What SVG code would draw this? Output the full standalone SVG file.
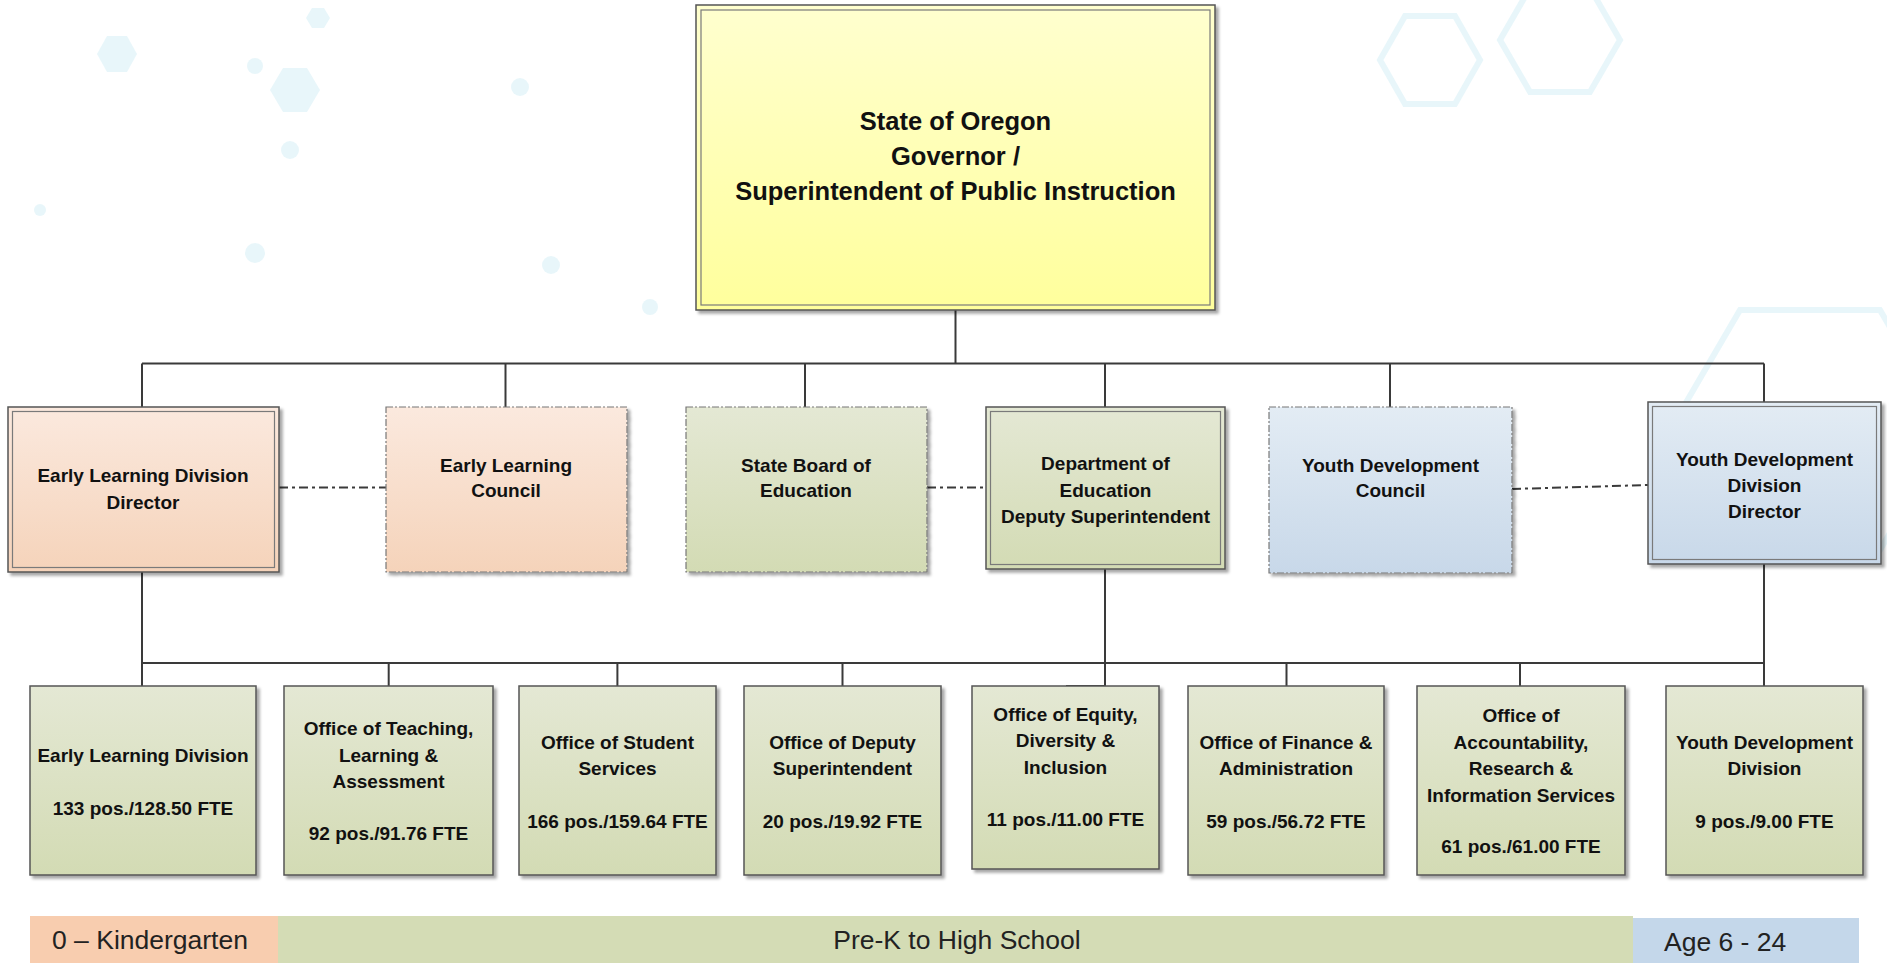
<svg xmlns="http://www.w3.org/2000/svg" width="1887" height="963" viewBox="0 0 1887 963">
<defs>
<linearGradient id="gY" x1="0" y1="0" x2="0" y2="1"><stop offset="0" stop-color="#FFFFCF"/><stop offset="1" stop-color="#FFFF9C"/></linearGradient>
<linearGradient id="gP" x1="0" y1="0" x2="0" y2="1"><stop offset="0" stop-color="#FBE9DE"/><stop offset="1" stop-color="#F5D3BA"/></linearGradient>
<linearGradient id="gG" x1="0" y1="0" x2="0" y2="1"><stop offset="0" stop-color="#E4E8D4"/><stop offset="1" stop-color="#D3DBB4"/></linearGradient>
<linearGradient id="gB" x1="0" y1="0" x2="0" y2="1"><stop offset="0" stop-color="#E3ECF4"/><stop offset="1" stop-color="#C8D8E9"/></linearGradient>
<filter id="sh" x="-5%" y="-5%" width="115%" height="115%"><feDropShadow dx="3" dy="3" stdDeviation="1.5" flood-color="#000" flood-opacity="0.35"/></filter>
<style>
.o{stroke:#555;stroke-width:1.5}
.i{fill:none;stroke:#7a7a7a;stroke-width:1.2}
.d{stroke:#777;stroke-width:1.2;stroke-dasharray:7 2 2 2}
.s{stroke:#555;stroke-width:1.5}
.c{fill:none;stroke:#3a3a3a;stroke-width:2}
.dc{fill:none;stroke:#3a3a3a;stroke-width:2;stroke-dasharray:9 4 3 4}
.t{font-family:"Liberation Sans",Arial,sans-serif;font-weight:bold;font-size:19px;fill:#111;text-anchor:middle}
.tt{font-family:"Liberation Sans",Arial,sans-serif;font-weight:bold;font-size:25.5px;fill:#111;text-anchor:middle}
.b{font-family:"Liberation Sans",Arial,sans-serif;font-size:26.5px;fill:#222}
.bg{fill:#D6EEF5;opacity:0.55}
.bgl{fill:none;stroke:#D6EEF5;stroke-width:6;opacity:0.55}
</style>
</defs>
<rect width="1887" height="963" fill="#ffffff"/>
<g id="background">
<polygon class="bg" points="137,54 127,72 107,72 97,54 107,36 127,36"/>
<polygon class="bg" points="320,90 307,112 283,112 270,90 283,68 307,68"/>
<polygon class="bg" points="330,18 324,28 312,28 306,18 312,8 324,8"/>
<circle class="bg" cx="255" cy="66" r="8"/>
<circle class="bg" cx="290" cy="150" r="9"/>
<circle class="bg" cx="255" cy="253" r="10"/>
<circle class="bg" cx="520" cy="87" r="9"/>
<circle class="bg" cx="551" cy="265" r="9"/>
<circle class="bg" cx="650" cy="307" r="8"/>
<circle class="bg" cx="40" cy="210" r="6"/>
<polygon class="bgl" points="1950,430 1880,550 1740,550 1670,430 1740,310 1880,310"/>
<polygon class="bgl" points="1620,40 1590,92 1530,92 1500,40 1530,-12 1590,-12"/>
<polygon class="bgl" points="1480,60 1455,104 1405,104 1380,60 1405,16 1455,16"/>
</g>
<g id="connectors">
<path class="c" d="M955.5,310 V363.5 M142,363.5 H1764 M142,363.5 V407 M505.5,363.5 V407 M805,363.5 V407 M1105,363.5 V407 M1390,363.5 V407 M1764,363.5 V402"/>
<path class="c" d="M142,572 V686 M1105,569 V686 H1066 M1764,564 V686 M142,663 H1764 M388.7,663 V686 M617.4,663 V686 M842.5,663 V686 M1286.5,663 V686 M1520,663 V686"/>
<path class="dc" d="M279,487.5 H386 M927,487.5 H986 M1512,489 L1648,485"/>
</g>
<g id="n-governor">
<rect x="696" y="5" width="519" height="305" fill="url(#gY)" class="o" filter="url(#sh)"/>
<rect x="701" y="10" width="509" height="295" class="i"/>
<text class="tt" x="955.5" y="130">State of Oregon</text>
<text class="tt" x="955.5" y="165">Governor /</text>
<text class="tt" x="955.5" y="200">Superintendent of Public Instruction</text>
</g>
<g id="n-eld-director">
<rect x="8" y="407" width="271" height="165" fill="url(#gP)" class="o" filter="url(#sh)"/>
<rect x="12.5" y="411.5" width="262" height="156" class="i"/>
<text class="t" x="143" y="482">Early Learning Division</text>
<text class="t" x="143" y="509">Director</text>
</g>
<g id="n-el-council">
<rect x="386" y="407" width="241" height="165" fill="url(#gP)" class="d" filter="url(#sh)"/>
<text class="t" x="506" y="471.5">Early Learning</text>
<text class="t" x="506" y="497">Council</text>
</g>
<g id="n-state-board">
<rect x="686" y="407" width="241" height="165" fill="url(#gG)" class="d" filter="url(#sh)"/>
<text class="t" x="806" y="471.5">State Board of</text>
<text class="t" x="806" y="497">Education</text>
</g>
<g id="n-dept-ed">
<rect x="986" y="407" width="239" height="162" fill="url(#gG)" class="o" filter="url(#sh)"/>
<rect x="990.5" y="411.5" width="230" height="153" class="i"/>
<text class="t" x="1105.5" y="470">Department of</text>
<text class="t" x="1105.5" y="497">Education</text>
<text class="t" x="1105.5" y="523">Deputy Superintendent</text>
</g>
<g id="n-yd-council">
<rect x="1269" y="407" width="243" height="166" fill="url(#gB)" class="d" filter="url(#sh)"/>
<text class="t" x="1390.5" y="471.5">Youth Development</text>
<text class="t" x="1390.5" y="497">Council</text>
</g>
<g id="n-ydd-director">
<rect x="1648" y="402" width="233" height="162" fill="url(#gB)" class="o" filter="url(#sh)"/>
<rect x="1652.5" y="406.5" width="224" height="153" class="i"/>
<text class="t" x="1764.5" y="465.5">Youth Development</text>
<text class="t" x="1764.5" y="492">Division</text>
<text class="t" x="1764.5" y="517.5">Director</text>
</g>
<g id="n-eld">
<rect x="30" y="686" width="226" height="189" fill="url(#gG)" class="s" filter="url(#sh)"/>
<text class="t" x="143" y="761.5">Early Learning Division</text>
<text class="t" x="143" y="814.5">133 pos./128.50 FTE</text>
</g>
<g id="n-teaching">
<rect x="284" y="686" width="209" height="189" fill="url(#gG)" class="s" filter="url(#sh)"/>
<text class="t" x="388.5" y="735">Office of Teaching,</text>
<text class="t" x="388.5" y="761.5">Learning &amp;</text>
<text class="t" x="388.5" y="788">Assessment</text>
<text class="t" x="388.5" y="840">92 pos./91.76 FTE</text>
</g>
<g id="n-student">
<rect x="519" y="686" width="197" height="189" fill="url(#gG)" class="s" filter="url(#sh)"/>
<text class="t" x="617.5" y="748.5">Office of Student</text>
<text class="t" x="617.5" y="775">Services</text>
<text class="t" x="617.5" y="828">166 pos./159.64 FTE</text>
</g>
<g id="n-deputy">
<rect x="744" y="686" width="197" height="189" fill="url(#gG)" class="s" filter="url(#sh)"/>
<text class="t" x="842.5" y="748.5">Office of Deputy</text>
<text class="t" x="842.5" y="775">Superintendent</text>
<text class="t" x="842.5" y="828">20 pos./19.92 FTE</text>
</g>
<g id="n-equity">
<rect x="972" y="686" width="187" height="183" fill="url(#gG)" class="s" filter="url(#sh)"/>
<text class="t" x="1065.5" y="721">Office of Equity,</text>
<text class="t" x="1065.5" y="747">Diversity &amp;</text>
<text class="t" x="1065.5" y="773.5">Inclusion</text>
<text class="t" x="1065.5" y="825.5">11 pos./11.00 FTE</text>
</g>
<g id="n-finance">
<rect x="1188" y="686" width="196" height="189" fill="url(#gG)" class="s" filter="url(#sh)"/>
<text class="t" x="1286" y="748.5">Office of Finance &amp;</text>
<text class="t" x="1286" y="775">Administration</text>
<text class="t" x="1286" y="828">59 pos./56.72 FTE</text>
</g>
<g id="n-accountability">
<rect x="1417" y="686" width="208" height="189" fill="url(#gG)" class="s" filter="url(#sh)"/>
<text class="t" x="1521" y="722">Office of</text>
<text class="t" x="1521" y="748.5">Accountability,</text>
<text class="t" x="1521" y="775">Research &amp;</text>
<text class="t" x="1521" y="801.5">Information Services</text>
<text class="t" x="1521" y="853">61 pos./61.00 FTE</text>
</g>
<g id="n-ydd">
<rect x="1666" y="686" width="197" height="189" fill="url(#gG)" class="s" filter="url(#sh)"/>
<text class="t" x="1764.5" y="748.5">Youth Development</text>
<text class="t" x="1764.5" y="775">Division</text>
<text class="t" x="1764.5" y="828">9 pos./9.00 FTE</text>
</g>
<g id="bands">
<rect x="30" y="916" width="248" height="47" fill="#F8CDAF"/>
<rect x="278" y="916" width="1355" height="47" fill="#D4DCB5"/>
<rect x="1633" y="918" width="226" height="45" fill="#C4D7EA"/>
<text class="b" x="52" y="949">0 – Kindergarten</text>
<text class="b" x="957" y="949" text-anchor="middle">Pre-K to High School</text>
<text class="b" x="1664" y="951">Age 6 - 24</text>
</g>
</svg>
